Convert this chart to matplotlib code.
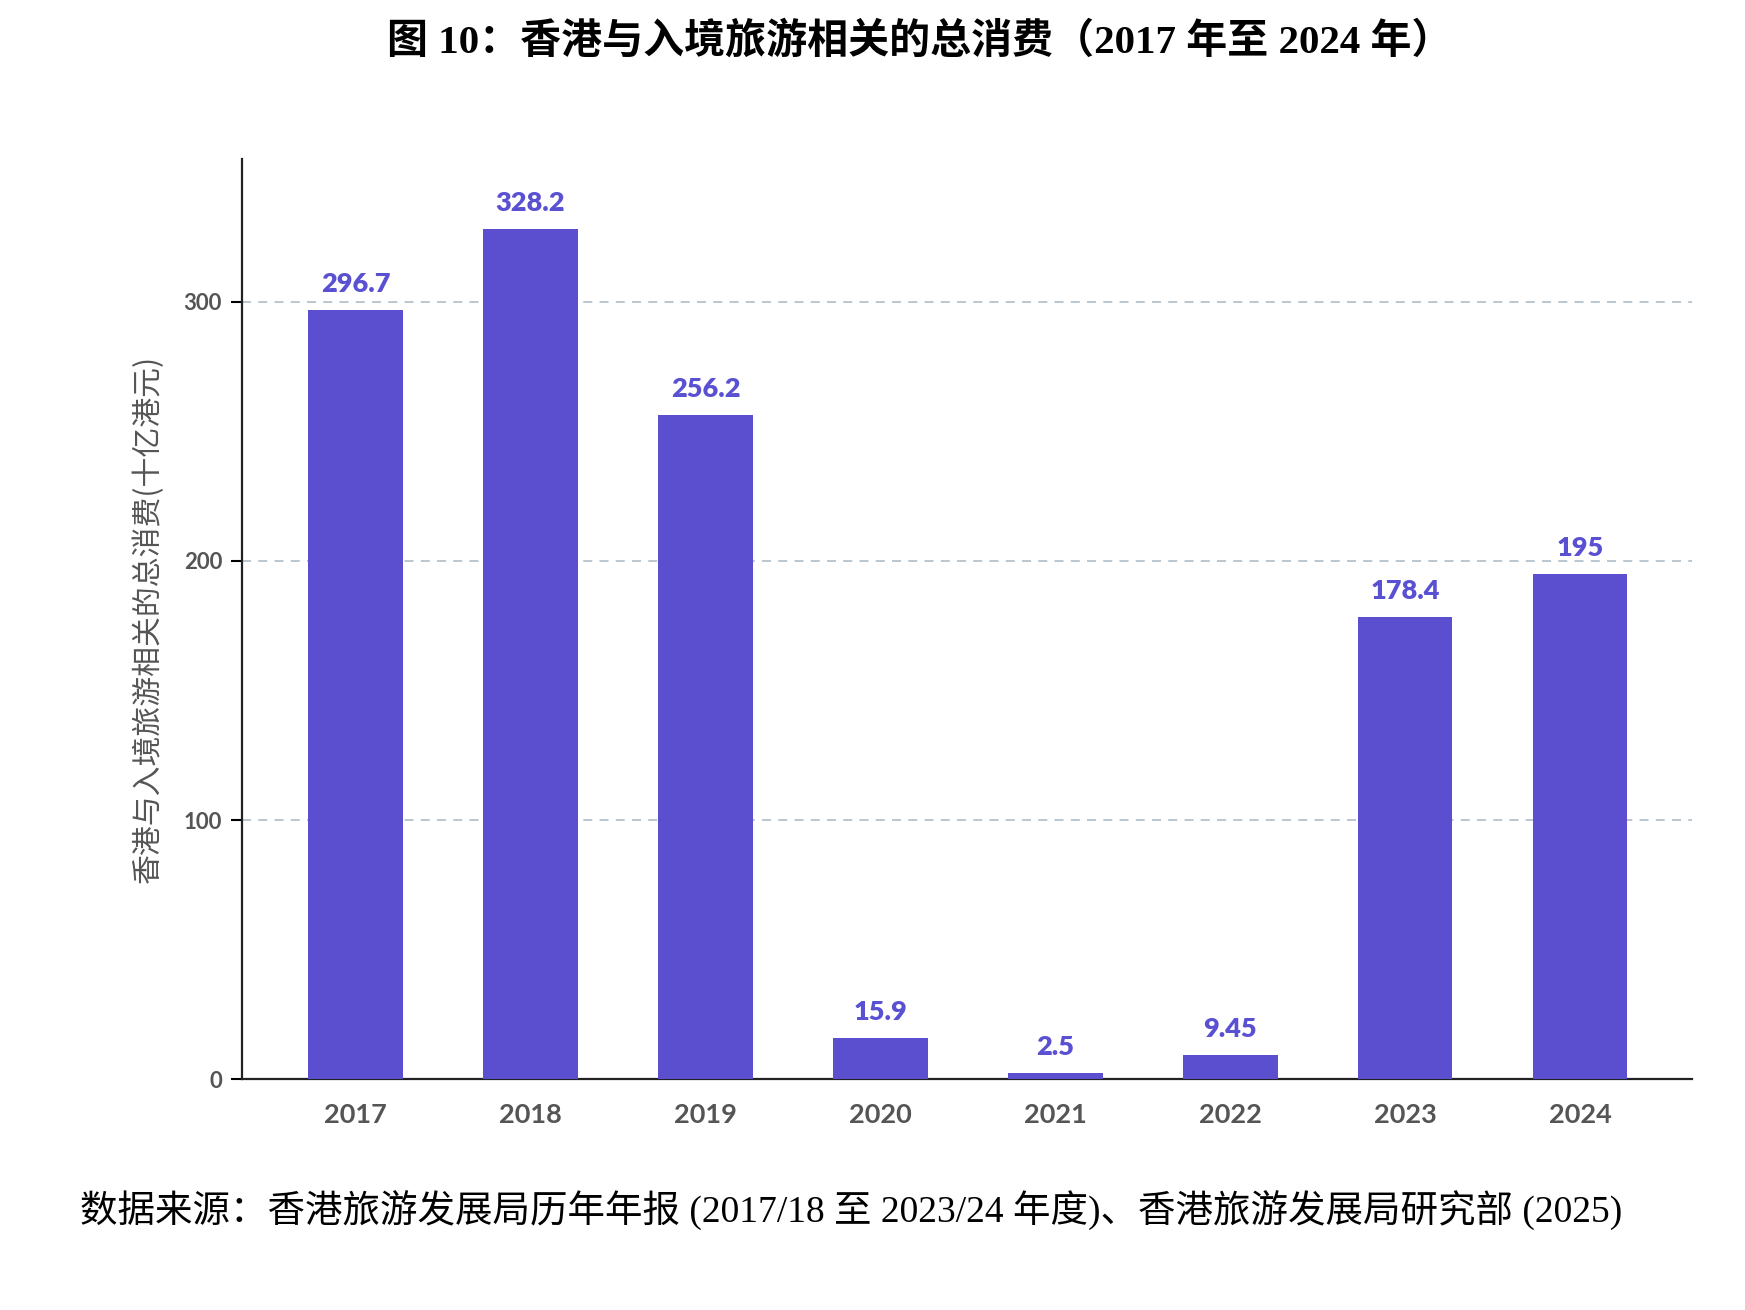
import matplotlib
matplotlib.use('Agg')
import matplotlib.pyplot as plt
import numpy as np

# data
years = ['2017', '2018', '2019', '2020', '2021', '2022', '2023', '2024']
spending = [296.7, 328.2, 256.2, 15.9, 2.5, 9.45, 178.4, 195]
value_labels = ['296.7', '328.2', '256.2', '15.9', '2.5', '9.45', '178.4', '195']
yticks = [0, 100, 200, 300]

title = '图 10：香港与入境旅游相关的总消费（2017 年至 2024 年）'
ylabel = '香港与入境旅游相关的总消费(十亿港元)'
source = '数据来源：香港旅游发展局历年年报 (2017/18 至 2023/24 年度)、香港旅游发展局研究部 (2025)'

bar_color = '#5B4FCF'
label_color = '#5A50D2'
tick_color = '#555555'
serif_cjk = ['Liberation Serif', 'Noto Sans CJK SC']

fig = plt.figure(figsize=(17.45, 13.1), dpi=100)
ax = fig.add_axes([0.1384, 0.176, 0.831, 0.7026])

x = np.arange(len(years))
bars = ax.bar(x, spending, width=0.54, color=bar_color, zorder=3)
for xi, v, lab in zip(x, spending, value_labels):
    ax.annotate(lab, (xi, v), xytext=(0, 10), textcoords='offset points',
                ha='center', va='bottom', fontsize=19.5, fontweight='heavy',
                family='Lato', color=label_color)

ax.set_xlim(-0.652, 7.637)
ax.set_ylim(0, 355)
ax.set_xticks(x)
ax.set_xticklabels(years)
ax.set_yticks(yticks)
ax.yaxis.grid(True, linestyle=(0, (5, 4)), color='#b6c2cc', linewidth=1.3)
ax.set_axisbelow(True)

for side in ['top', 'right']:
    ax.spines[side].set_visible(False)
for side in ['left', 'bottom']:
    ax.spines[side].set_linewidth(1.6)
    ax.spines[side].set_color('#222222')

ax.tick_params(axis='x', length=0, pad=17, labelsize=19.5, labelcolor=tick_color)
ax.tick_params(axis='y', length=8, width=1.5, pad=6, labelsize=16, labelcolor=tick_color)
for t in ax.get_xticklabels() + ax.get_yticklabels():
    t.set_family('Lato')
    t.set_fontweight('bold')

ax.set_ylabel(ylabel, family=['Noto Sans CJK SC', 'DejaVu Sans'], fontsize=21.5,
              color=tick_color, labelpad=14)

fig.text(0.527, 0.968, title, ha='center', va='center', fontsize=29.5,
         fontweight='bold', family=serif_cjk)
fig.text(0.046, 0.0756, source, ha='left', va='center', fontsize=27,
         family=serif_cjk)

fig.savefig('out.png', dpi=100)
